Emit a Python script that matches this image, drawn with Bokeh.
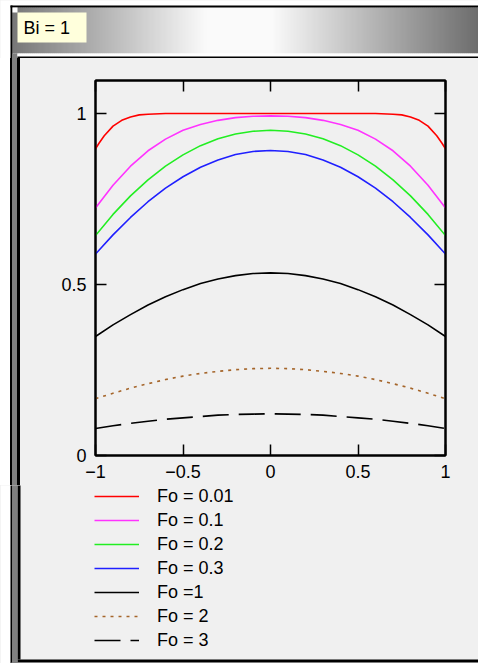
from bokeh.plotting import figure
from bokeh.models import Legend, LegendItem, LinearAxis, FixedTicker, Range1d, Div
from bokeh.layouts import column, row
from bokeh.core.properties import value
from bokeh.embed import file_html
from bokeh.resources import INLINE

# ---------------- data ----------------
x_pts = [-1.0, -0.9, -0.8, -0.7, -0.6, -0.5, -0.4, -0.3, -0.2, -0.1, 0.0,
         0.1, 0.2, 0.3, 0.4, 0.5, 0.6, 0.7, 0.8, 0.9, 1.0]

fo_001_x = [-1.0, -0.98, -0.95, -0.9, -0.85, -0.8, -0.75, -0.7, -0.6, 0.0,
            0.6, 0.7, 0.75, 0.8, 0.85, 0.9, 0.95, 0.98, 1.0]
fo_001 = [0.897, 0.913, 0.935, 0.963, 0.980, 0.990, 0.996, 0.998, 1.0, 1.0,
          1.0, 0.998, 0.996, 0.990, 0.980, 0.963, 0.935, 0.913, 0.897]

fo_01 = [0.724, 0.790, 0.846, 0.891, 0.925, 0.951, 0.968, 0.980, 0.988, 0.992, 0.993,
         0.992, 0.988, 0.980, 0.968, 0.951, 0.925, 0.891, 0.846, 0.790, 0.724]
fo_02 = [0.643, 0.705, 0.759, 0.806, 0.846, 0.879, 0.906, 0.926, 0.940, 0.948, 0.951,
         0.948, 0.940, 0.926, 0.906, 0.879, 0.846, 0.806, 0.759, 0.705, 0.643]
fo_03 = [0.589, 0.645, 0.696, 0.742, 0.782, 0.815, 0.843, 0.864, 0.880, 0.889, 0.892,
         0.889, 0.880, 0.864, 0.843, 0.815, 0.782, 0.742, 0.696, 0.645, 0.589]
fo_1 = [0.348, 0.382, 0.412, 0.440, 0.464, 0.485, 0.503, 0.516, 0.526, 0.532, 0.534,
        0.532, 0.526, 0.516, 0.503, 0.485, 0.464, 0.440, 0.412, 0.382, 0.348]
fo_2 = [0.166, 0.182, 0.197, 0.210, 0.222, 0.232, 0.240, 0.246, 0.251, 0.254, 0.255,
        0.254, 0.251, 0.246, 0.240, 0.232, 0.222, 0.210, 0.197, 0.182, 0.166]
fo_3 = [0.079, 0.087, 0.094, 0.100, 0.106, 0.110, 0.114, 0.118, 0.120, 0.121, 0.122,
        0.121, 0.120, 0.118, 0.114, 0.110, 0.106, 0.100, 0.094, 0.087, 0.079]

legend_labels = ["Fo = 0.01", "Fo = 0.1", "Fo = 0.2", "Fo = 0.3", "Fo =1", "Fo = 2", "Fo = 3"]
x_ticks = [-1, -0.5, 0, 0.5, 1]
x_tick_labels = ["\u22121", "\u22120.5", "0", "0.5", "1"]
y_ticks = [0, 0.5, 1]
y_tick_labels = ["0", "0.5", "1"]
header_text = "Bi = 1"

# ---------------- styles ----------------
FONT = "Liberation Sans"
PANEL = "#f0f0f0"
colors = ["#ff0000", "#ff33ff", "#22ee22", "#1f1fff", "black", "#a5652a", "black"]
dashes = ["solid", "solid", "solid", "solid", "solid", "3 5", "26 10"]
LW = 1.6
W, H = 478, 663
HEAD_H = 58
CHART_H = 427         # 58 -> 485
LEG_H = H - HEAD_H - CHART_H   # 485 -> 663
LEFT_W = 20


def deco_fig(w, h, bg="white"):
    return figure(width=w, height=h, x_range=Range1d(0, w), y_range=Range1d(h, 0),
                  min_border=0, toolbar_location=None, output_backend="svg",
                  x_axis_type=None, y_axis_type=None, outline_line_color=None,
                  background_fill_color=bg, border_fill_color=bg)


def grey(v):
    v = int(max(0, min(255, round(v))))
    return "#%02x%02x%02x" % (v, v, v)

# ---------------- header ----------------
head = deco_fig(W, HEAD_H)
gl, gr, gc = [], [], []
for xx in range(12, W, 2):
    if xx < 205:
        g = 120 + (xx - 12) / (205 - 12) * (250 - 120)
    elif xx <= 270:
        g = 250
    else:
        g = 250 - (xx - 270) / (W - 270) * (250 - 108)
    gl.append(xx)
    gr.append(xx + 2.6)
    gc.append(grey(g))
head.quad(left=gl, right=gr, top=7, bottom=53, fill_color=gc, line_color=None)
head.quad(left=[10, 10, 12, 12, 17, 17],
          right=[W, 12, 17, 17, W, W],
          top=[5, 5, 7, 53, 53, 56],
          bottom=[7, HEAD_H, 12, HEAD_H, 56, HEAD_H + 1],
          fill_color=["black", "black", "white", "#808080", "white", "black"],
          line_color=None)
head.quad(left=17, right=86, top=12, bottom=42, fill_color="#ffffdc", line_color=None)
head.text(x=[23], y=[27.5], text=[header_text], text_font=value(FONT),
          text_font_size="18px", text_color="black", text_baseline="middle",
          text_align="left")

# ---------------- left border beside the chart (CSS stripes) ----------------
left = Div(text="", width=LEFT_W, height=CHART_H, margin=0,
           styles={"background": "linear-gradient(to right, #ffffff 0px, #ffffff 10px, "
                                  "#000000 10px, #000000 12px, #808080 12px, #808080 17px, "
                                  "#000000 17px, #000000 20px)"})

# ---------------- main chart ----------------
p = figure(width=W - LEFT_W, height=CHART_H,
           min_border_left=75, min_border_right=33, min_border_top=22, min_border_bottom=30,
           x_range=Range1d(-1, 1), y_range=Range1d(0, 1.0965),
           output_backend="svg", toolbar_location=None,
           border_fill_color=PANEL, background_fill_color=PANEL,
           outline_line_color="black", outline_line_width=2)
p.grid.visible = False


def style_axis(ax, ticks, labels, show):
    ax.ticker = FixedTicker(ticks=ticks)
    ax.major_label_overrides = {t: (l if show else "") for t, l in zip(ticks, labels)}
    ax.axis_line_color = "black"
    ax.axis_line_width = 2
    ax.major_tick_in = 11
    ax.major_tick_out = 0
    ax.minor_tick_in = 0
    ax.minor_tick_out = 0
    ax.major_tick_line_color = "black"
    ax.major_tick_line_width = 1.5
    ax.major_label_text_font = FONT
    ax.major_label_text_font_size = "18px" if show else "8px"
    ax.major_label_text_color = "black"
    ax.major_label_standoff = 9 if show else 0


style_axis(p.xaxis[0], x_ticks, x_tick_labels, True)
style_axis(p.yaxis[0], y_ticks, y_tick_labels, True)
top_ax = LinearAxis()
style_axis(top_ax, x_ticks, x_tick_labels, False)
p.add_layout(top_ax, "above")
right_ax = LinearAxis()
style_axis(right_ax, y_ticks, y_tick_labels, False)
p.add_layout(right_ax, "right")

series = [(fo_001_x, fo_001), (x_pts, fo_01), (x_pts, fo_02), (x_pts, fo_03),
          (x_pts, fo_1), (x_pts, fo_2), (x_pts, fo_3)]
for (xs, ys), c, d in zip(series, colors, dashes):
    p.line(xs, ys, line_color=c, line_width=LW, line_dash=d)

# ---------------- legend panel (below the chart) ----------------
lf = deco_fig(W, LEG_H, bg=PANEL)
lf.quad(left=[0, 10, 12, 17, 17, 10, 12],
        right=[10, 12, 17, 20, W, W, 17],
        top=[-1, -1, -1, -1, 174, 177, -1],
        bottom=[LEG_H, LEG_H, LEG_H, 174, 177, LEG_H, LEG_H],
        fill_color=["white", "black", "#808080", "black", "black", "#808080", "#808080"],
        line_color=None)
# legend keys: same line styles as the curves (no points of their own)
nan = float("nan")
leg_renderers = [lf.line(x=[nan], y=[nan], line_color=c, line_width=LW, line_dash=d)
                 for c, d in zip(colors, dashes)]
items = [LegendItem(label=lab, renderers=[r]) for lab, r in zip(legend_labels, leg_renderers)]
legend = Legend(items=items, location=(94, 11), orientation="vertical",
                glyph_width=45, glyph_height=24, label_height=24, spacing=0,
                label_standoff=18, padding=0, margin=0,
                border_line_color=None, background_fill_alpha=0,
                label_text_font=FONT, label_text_font_size="18px",
                label_text_color="black", label_text_baseline="middle")
lf.add_layout(legend, "center")

layout = column(head, row(left, p, styles={"background-color": PANEL}), lf,
                styles={"background-color": PANEL})
open("out.html", "w").write(file_html(layout, INLINE))
